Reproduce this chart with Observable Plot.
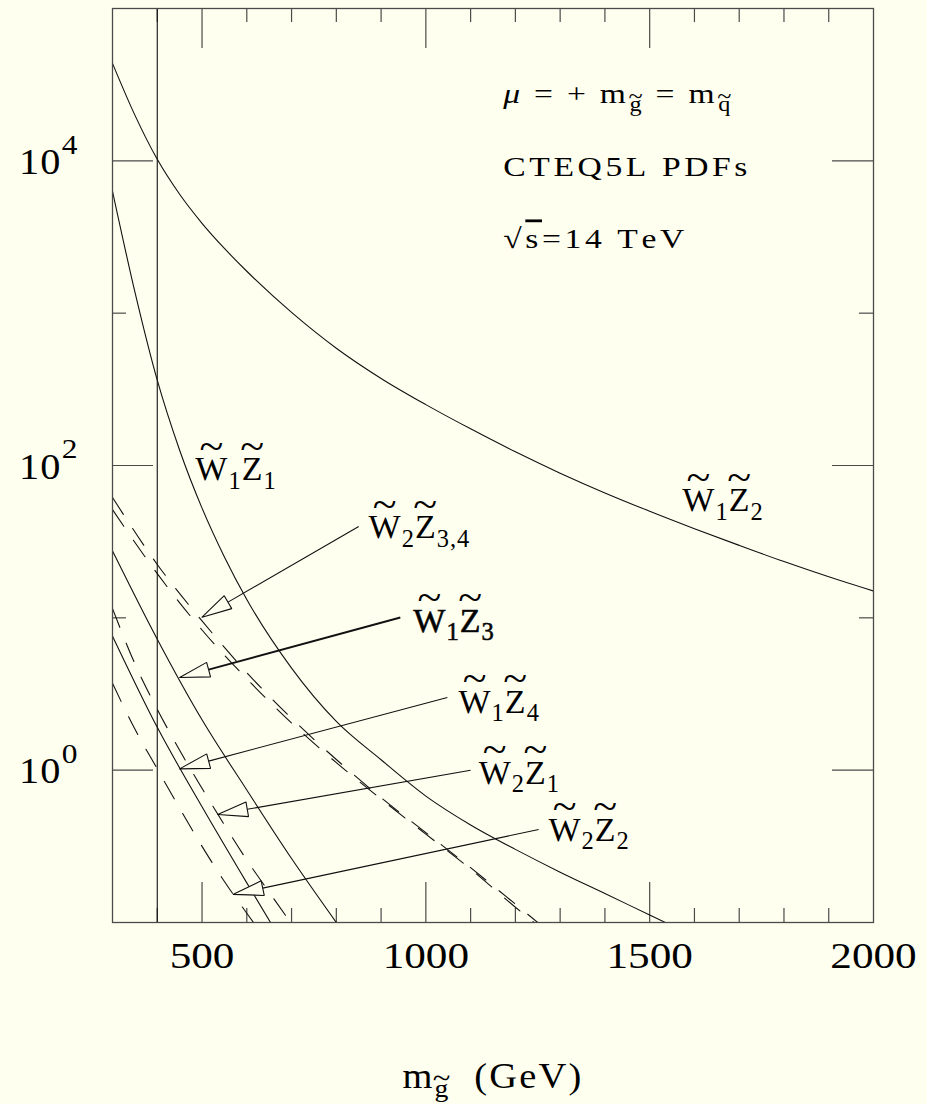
<!DOCTYPE html>
<html>
<head>
<meta charset="utf-8">
<script src="https://cdn.jsdelivr.net/npm/d3@7"></script>
<script src="https://cdn.jsdelivr.net/npm/@observablehq/plot@0.6"></script>
<style>
html, body { margin: 0; padding: 0; background: #fffff0; }
#chart { width: 927px; height: 1104px; }
</style>
</head>
<body>
<div id="chart"></div>
<script>
// ---------- data ----------
// gluino mass (GeV) and cross section, one array of [m, sigma] per process
const W1Z2 = [[300,43650],[350,19950],[400,10230],[450,6030],[500,3890],[550,2660],[600,1884],[700,1012],[800,589],[900,373],[1000,251],[1100,174],[1200,123],[1300,89.1],[1400,66.1],[1500,50.1],[1600,38.5],[1700,29.9],[1800,23.4],[1900,18.6],[2000,15.0]];
const W1Z1 = [[300,6310],[350,1380],[400,363],[450,126],[500,52.5],[550,25.1],[600,13.2],[700,4.68],[800,2.09],[900,1.17],[1000,0.676],[1100,0.437],[1200,0.302],[1300,0.214],[1400,0.155],[1500,0.112],[1535,0.1]];
const W1Z3 = [[300,27.5],[400,7.24],[500,2.14],[600,0.741],[700,0.263],[800,0.1]];
const W1Z4 = [[300,7.59],[400,1.91],[500,0.575],[600,0.182],[653,0.1]];
const W2Z3 = [[300,61.7],[400,22.4],[500,9.55],[600,4.37],[700,2.19],[800,1.175],[900,0.66],[1000,0.389],[1100,0.229],[1200,0.132],[1250,0.1]];
const W2Z4 = [[300,51.3],[400,19.5],[500,8.32],[600,3.98],[700,2.04],[800,1.12],[900,0.646],[1000,0.38],[1100,0.224],[1200,0.126],[1242,0.1]];
const W2Z1 = [[300,11.5],[350,5.0],[400,2.51],[450,1.35],[500,0.76],[550,0.437],[600,0.257],[650,0.158],[698,0.1]];
const W2Z2 = [[300,3.72],[350,1.86],[400,1.02],[450,0.562],[500,0.316],[550,0.186],[600,0.115],[615,0.1]];

const solidSeries = {W1Z2, W1Z1, W1Z3, W1Z4};
const dashedSeries = {W2Z3, W2Z4, W2Z1, W2Z2};

const limitMass = [400];

const xDomain = [300, 2000];
const yDomain = [0.1, 1e5];
const xMajorTicks = [500, 1000, 1500];
const xMinorTicks = [400, 600, 700, 800, 900, 1100, 1200, 1300, 1400, 1600, 1700, 1800, 1900];
const xTickLabels = [500, 1000, 1500, 2000];
const yMajorTicks = [1, 100, 10000];
const yMinorTicks = [10, 1000];
const yTickValues = [1, 100, 10000];
const yTickLabels = ["10^{0}", "10^{2}", "10^{4}"];

const labelText = ["~W_{1}~Z_{1}", "~W_{1}~Z_{2}", "~W_{2}~Z_{3,4}", "~W_{1}~Z_{3}", "~W_{1}~Z_{4}", "~W_{2}~Z_{1}", "~W_{2}~Z_{2}"];
const labelM = [485, 1573, 872, 972, 1073, 1118, 1274];
const labelV = [80, 50, 33.2, 8.13, 2.39, 0.817, 0.345];

const arrowFromM = [850, 943, 1048, 1100, 1252];
const arrowFromV = [39.8, 10.05, 3.0, 1.0, 0.408];
const arrowTipM = [500, 450, 450, 535, 570];
const arrowTipV = [10.1, 4.06, 1.02, 0.512, 0.153];

const infoLines = ["μ\u2009=\u2009+\u2009m_{~g}\u2009=\u2009m_{~q}", "CTEQ5L PDFs", "√\\o{s}=14 TeV"];
const infoM = 1173;
const infoV = [23790, 8010, 2698];

const axisLabel = "m_{~g}  (GeV)";

// ---------- layout ----------
const W = 927, H = 1104;
const M = {marginLeft: 112, marginRight: 54, marginTop: 8, marginBottom: 182};
const FW = W - M.marginLeft - M.marginRight;
const FH = H - M.marginTop - M.marginBottom;
const BG = "#fffff0";
const AX = "#4a4a4a";
const FONT = "Liberation Serif";

const toRows = (obj) => Object.entries(obj).flatMap(([name, arr]) => arr.map(([m, v]) => ({name, m, v})));
const solidRows = toRows(solidSeries);
const dashedRows = toRows(dashedSeries);

const baseOpts = {
  width: W, height: H, ...M,
  x: {type: "linear", domain: xDomain, axis: null},
  y: {type: "log", domain: yDomain, axis: null},
  style: {background: BG, fontFamily: FONT, fontSize: "34px", color: "black"}
};

// probe plot to obtain the library's scales
const probe = Plot.plot({...baseOpts, marks: [Plot.frame()]});
const SX = probe.scale("x"), SY = probe.scale("y");
const xs = SX.apply ? {apply: SX.apply, invert: SX.invert} : (() => { const s = d3.scaleLinear(SX.domain, SX.range); return {apply: s, invert: s.invert}; })();
const ys = SY.apply ? {apply: SY.apply, invert: SY.invert} : (() => { const s = d3.scaleLog(SY.domain, SY.range); return {apply: s, invert: s.invert}; })();

const HEAD_LEN = 30, HEAD_HALF = 7.5;
const arrows = arrowTipM.map((tm, i) => {
  const tx = xs.apply(tm), ty = ys.apply(arrowTipV[i]);
  const fx = xs.apply(arrowFromM[i]), fy = ys.apply(arrowFromV[i]);
  const dx = fx - tx, dy = fy - ty, L = Math.hypot(dx, dy);
  const ux = dx / L, uy = dy / L, nx = -uy, ny = ux;
  const bx = tx + HEAD_LEN * ux, by = ty + HEAD_LEN * uy;
  const pts = [[tx, ty], [bx + HEAD_HALF * nx, by + HEAD_HALF * ny], [bx - HEAD_HALF * nx, by - HEAD_HALF * ny], [tx, ty]];
  return {
    i,
    fromM: arrowFromM[i], fromV: arrowFromV[i],
    baseM: xs.invert(bx), baseV: ys.invert(by),
    head: pts.map(([px, py]) => ({id: i, m: xs.invert(px), v: ys.invert(py)}))
  };
});
const headRows = arrows.flatMap(a => a.head);

const labels = labelText.map((t, i) => ({t, m: labelM[i], v: labelV[i], i}));
const infos = infoLines.map((t, i) => ({t, v: infoV[i]}));
const yLabs = yTickValues.map((v, i) => ({v, t: yTickLabels[i]}));
const tag = (name) => () => name;

const plot = Plot.plot({
  ...baseOpts,
  marks: [
    // axes ticks (inward)
    Plot.tickX(xMajorTicks, {x: d => d, insetTop: FH - 40, stroke: AX, strokeWidth: 1.2}),
    Plot.tickX(xMajorTicks, {x: d => d, insetBottom: FH - 40, stroke: AX, strokeWidth: 1.2}),
    Plot.tickX(xMinorTicks, {x: d => d, insetTop: FH - 14, stroke: AX, strokeWidth: 1.2}),
    Plot.tickX(xMinorTicks, {x: d => d, insetBottom: FH - 14, stroke: AX, strokeWidth: 1.2}),
    Plot.tickY(yMajorTicks, {y: d => d, insetRight: FW - 41, stroke: AX, strokeWidth: 1.2}),
    Plot.tickY(yMajorTicks, {y: d => d, insetLeft: FW - 41, stroke: AX, strokeWidth: 1.2}),
    Plot.tickY(yMinorTicks, {y: d => d, insetRight: FW - 14, stroke: AX, strokeWidth: 1.2}),
    Plot.tickY(yMinorTicks, {y: d => d, insetLeft: FW - 14, stroke: AX, strokeWidth: 1.2}),
    Plot.ruleX(limitMass, {x: d => d, stroke: "#111", strokeWidth: 1.1}),
    Plot.line(solidRows, {x: "m", y: "v", z: "name", curve: "monotone-x", stroke: "#111", strokeWidth: 1.1, clip: true}),
    Plot.line(dashedRows, {x: "m", y: "v", z: "name", curve: "monotone-x", stroke: "#111", strokeWidth: 1.1, strokeDasharray: "20,17", clip: true}),
    Plot.link(arrows.filter(a => a.i !== 1), {x1: "fromM", y1: "fromV", x2: "baseM", y2: "baseV", stroke: "#111", strokeWidth: 1.1}),
    Plot.link(arrows.filter(a => a.i === 1), {x1: "fromM", y1: "fromV", x2: "baseM", y2: "baseV", stroke: "#111", strokeWidth: 1.9}),
    Plot.line(headRows, {x: "m", y: "v", z: "id", fill: BG, stroke: "#111", strokeWidth: 1.1, strokeLinejoin: "miter"}),
    Plot.frame({stroke: AX, strokeWidth: 1.3}),
    // texts
    Plot.text(labels.filter(d => d.i !== 3), {x: "m", y: "v", text: "t", textAnchor: "start", lineAnchor: "bottom", fontSize: 34, fontFamily: FONT, ariaLabel: tag("rich-series")}),
    Plot.text(labels.filter(d => d.i === 3), {x: "m", y: "v", text: "t", textAnchor: "start", lineAnchor: "bottom", fontSize: 34, fontFamily: FONT, ariaLabel: tag("rich-bold")}),
    Plot.text(infos, {x: () => infoM, y: "v", text: "t", textAnchor: "start", lineAnchor: "bottom", fontSize: 28, fontFamily: FONT, ariaLabel: tag("rich-info")}),
    Plot.text(xTickLabels, {x: d => d, text: d => String(d), frameAnchor: "bottom", lineAnchor: "bottom", dy: 45, fontSize: 36, fontFamily: FONT, ariaLabel: tag("rich-xtick")}),
    Plot.text(yLabs, {y: "v", text: "t", frameAnchor: "left", textAnchor: "end", lineAnchor: "bottom", dx: -34, dy: 13, fontSize: 36, fontFamily: FONT, ariaLabel: tag("rich-ytick")}),
    Plot.text([axisLabel], {text: d => d, frameAnchor: "bottom", lineAnchor: "bottom", dy: 165, fontSize: 35, fontFamily: FONT, ariaLabel: tag("rich-axis")})
  ]
});

document.getElementById("chart").appendChild(plot);

// ---------- rich text: sub/superscripts, tildes, overline ----------
const NS = "http://www.w3.org/2000/svg";
function group(s, i) {
  if (s[i] !== "{") return {inner: s[i] || "", end: i + 1};
  let depth = 0, j = i;
  for (; j < s.length; j++) {
    if (s[j] === "{") depth++;
    else if (s[j] === "}") { depth--; if (depth === 0) break; }
  }
  return {inner: s.slice(i + 1, j), end: j + 1};
}
function parseRich(s, level, out) {
  let i = 0;
  while (i < s.length) {
    const c = s[i];
    if (c === "_" || c === "^") {
      const g = group(s, i + 1);
      parseRich(g.inner, c === "_" ? -1 : 1, out);
      i = g.end;
    } else if (c === "\\" && s[i + 1] === "o") {
      const g = group(s, i + 2);
      const start = out.length;
      parseRich(g.inner, level, out);
      for (let k = start; k < out.length; k++) out[k].overline = true;
      i = g.end;
    } else if (c === "~") {
      out.push({text: s[i + 1], level, tilde: true});
      i += 2;
    } else {
      out.push({text: c, level, italic: c === "μ"});
      i++;
    }
  }
  return out;
}
// letter spacing (px) and horizontal stretch per text group
const textLook = {
  "rich-series": {ls: 1, sx: 1},
  "rich-bold": {ls: 1, sx: 1},
  "rich-info": {ls: 3, sx: 1.2},
  "rich-xtick": {ls: 0, sx: 1.2},
  "rich-ytick": {ls: 1, sx: 1.12},
  "rich-axis": {ls: 2, sx: 1.1}
};
function build(t, look, bold) {
  const {ls, sx} = look;
  const src = t.textContent;
  const fs = parseFloat(getComputedStyle(t).fontSize);
  const runs = parseRich(src, 0, []);
  while (t.firstChild) t.removeChild(t.firstChild);
  t.style.whiteSpace = "pre";
  t.style.letterSpacing = ls + "px";
  if (bold) { t.setAttribute("stroke", "#111"); t.setAttribute("stroke-width", "0.6"); t.setAttribute("paint-order", "normal"); }
  let cur = 0, idx = 0;
  const tildes = [];
  runs.forEach(r => {
    const ts = document.createElementNS(NS, "tspan");
    const size = r.level < 0 ? fs * 0.72 : r.level > 0 ? fs * 0.78 : fs;
    const shift = r.level < 0 ? 0.26 * fs : r.level > 0 ? -0.56 * fs : 0;
    if (shift !== cur) ts.setAttribute("dy", (shift - cur).toFixed(2));
    cur = shift;
    if (r.level) ts.setAttribute("font-size", size.toFixed(2));
    if (r.italic) ts.setAttribute("font-style", "italic");
    if (r.overline) ts.style.textDecoration = "overline";
    ts.textContent = r.text;
    t.appendChild(ts);
    if (r.tilde) tildes.push({idx, size, upper: r.text === r.text.toUpperCase()});
    idx += r.text.length;
  });
  const tr = (t.getAttribute("transform") || "") + (sx !== 1 ? ` scale(${sx},1)` : "");
  const ext = tildes.map(m => { try { return t.getExtentOfChar(m.idx); } catch (err) { return null; } });
  t.setAttribute("transform", tr);
  tildes.forEach((m, k) => {
    const e = ext[k];
    if (!e) return;
    const base = e.y + e.height * 0.805;
    const cx = e.x + (e.width - ls) / 2;
    const h = m.upper ? 0.662 : 0.46;
    const cy = base - h * m.size - (m.upper ? 0.25 : 0.19) * m.size;
    const tfs = m.size * 0.72;
    const tt = document.createElementNS(NS, "text");
    tt.setAttribute("transform", `${tr} translate(${cx.toFixed(2)},${cy.toFixed(2)}) scale(${(1.8 / sx).toFixed(3)},1.6)`);
    tt.setAttribute("text-anchor", "middle");
    tt.setAttribute("font-size", tfs.toFixed(2));
    tt.setAttribute("font-family", FONT);
    tt.setAttribute("x", "0");
    tt.setAttribute("y", (0.275 * tfs).toFixed(2));
    tt.setAttribute("stroke", "none");
    tt.textContent = "~";
    t.parentNode.appendChild(tt);
  });
}
Array.from(plot.querySelectorAll('text[aria-label^="rich"]')).forEach(t => {
  const key = t.getAttribute("aria-label");
  t.removeAttribute("aria-label");
  build(t, textLook[key] || {ls: 0, sx: 1}, key === "rich-bold");
});
</script>
</body>
</html>
